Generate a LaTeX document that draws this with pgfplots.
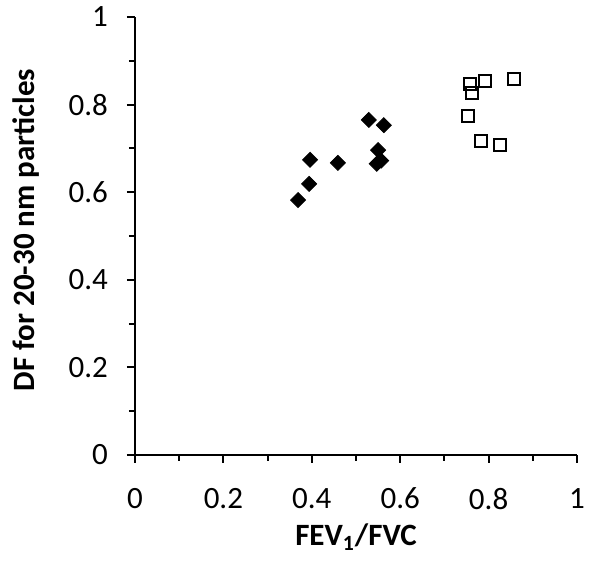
\documentclass[border=0pt]{standalone}
\usepackage{pgfplots}
\pgfplotsset{compat=1.18}
\usepackage{fontspec}
\setmainfont{Carlito}

\begin{document}
\begin{tikzpicture}
\begin{axis}[
    scale only axis,
    width=221pt, height=219pt,
    xmin=0, xmax=1, ymin=0, ymax=1,
    axis x line*=bottom, axis y line*=left,
    axis line style={line width=1pt, -},
    xtick={0,0.2,...,1}, ytick={0,0.2,...,1},
    minor tick num=1,
    tick align=outside,
    major tick length=4pt, minor tick length=3pt,
    every tick/.style={black, line width=1pt},
    tick label style={font=\fontsize{15.5}{18}\selectfont},
    /pgf/number format/assume math mode=true,
    xticklabel style={yshift=-9pt},
    yticklabel style={xshift=-6pt},
    xlabel={\textbf{FEV\textsubscript{1}/FVC}},
    ylabel={\textbf{DF for 20-30 nm particles}},
    label style={font=\fontsize{15.5}{18}\selectfont},
    xlabel style={yshift=-0.5pt},
    ylabel style={yshift=8pt, xshift=3pt},
    clip=false,
]
\addplot[only marks, mark=square*, mark size=2.65pt, mark options={rotate=45, fill=black, draw=black}] coordinates {
    (0.529,0.765) (0.563,0.753) (0.396,0.674) (0.459,0.667)
    (0.550,0.696) (0.547,0.665) (0.557,0.672) (0.394,0.619) (0.369,0.582)
};
\addplot[only marks, mark=square, mark size=3.1pt, mark options={draw=black, line width=1pt}] coordinates {
    (0.758,0.847) (0.792,0.854) (0.857,0.858) (0.762,0.826)
    (0.753,0.774) (0.783,0.717) (0.826,0.708)
};
\end{axis}
\pgfresetboundingbox
\path (current axis.south west) ++(-67.5pt,-55.5pt) (current axis.north east) ++(11.5pt,8.5pt);
\end{tikzpicture}
\end{document}
